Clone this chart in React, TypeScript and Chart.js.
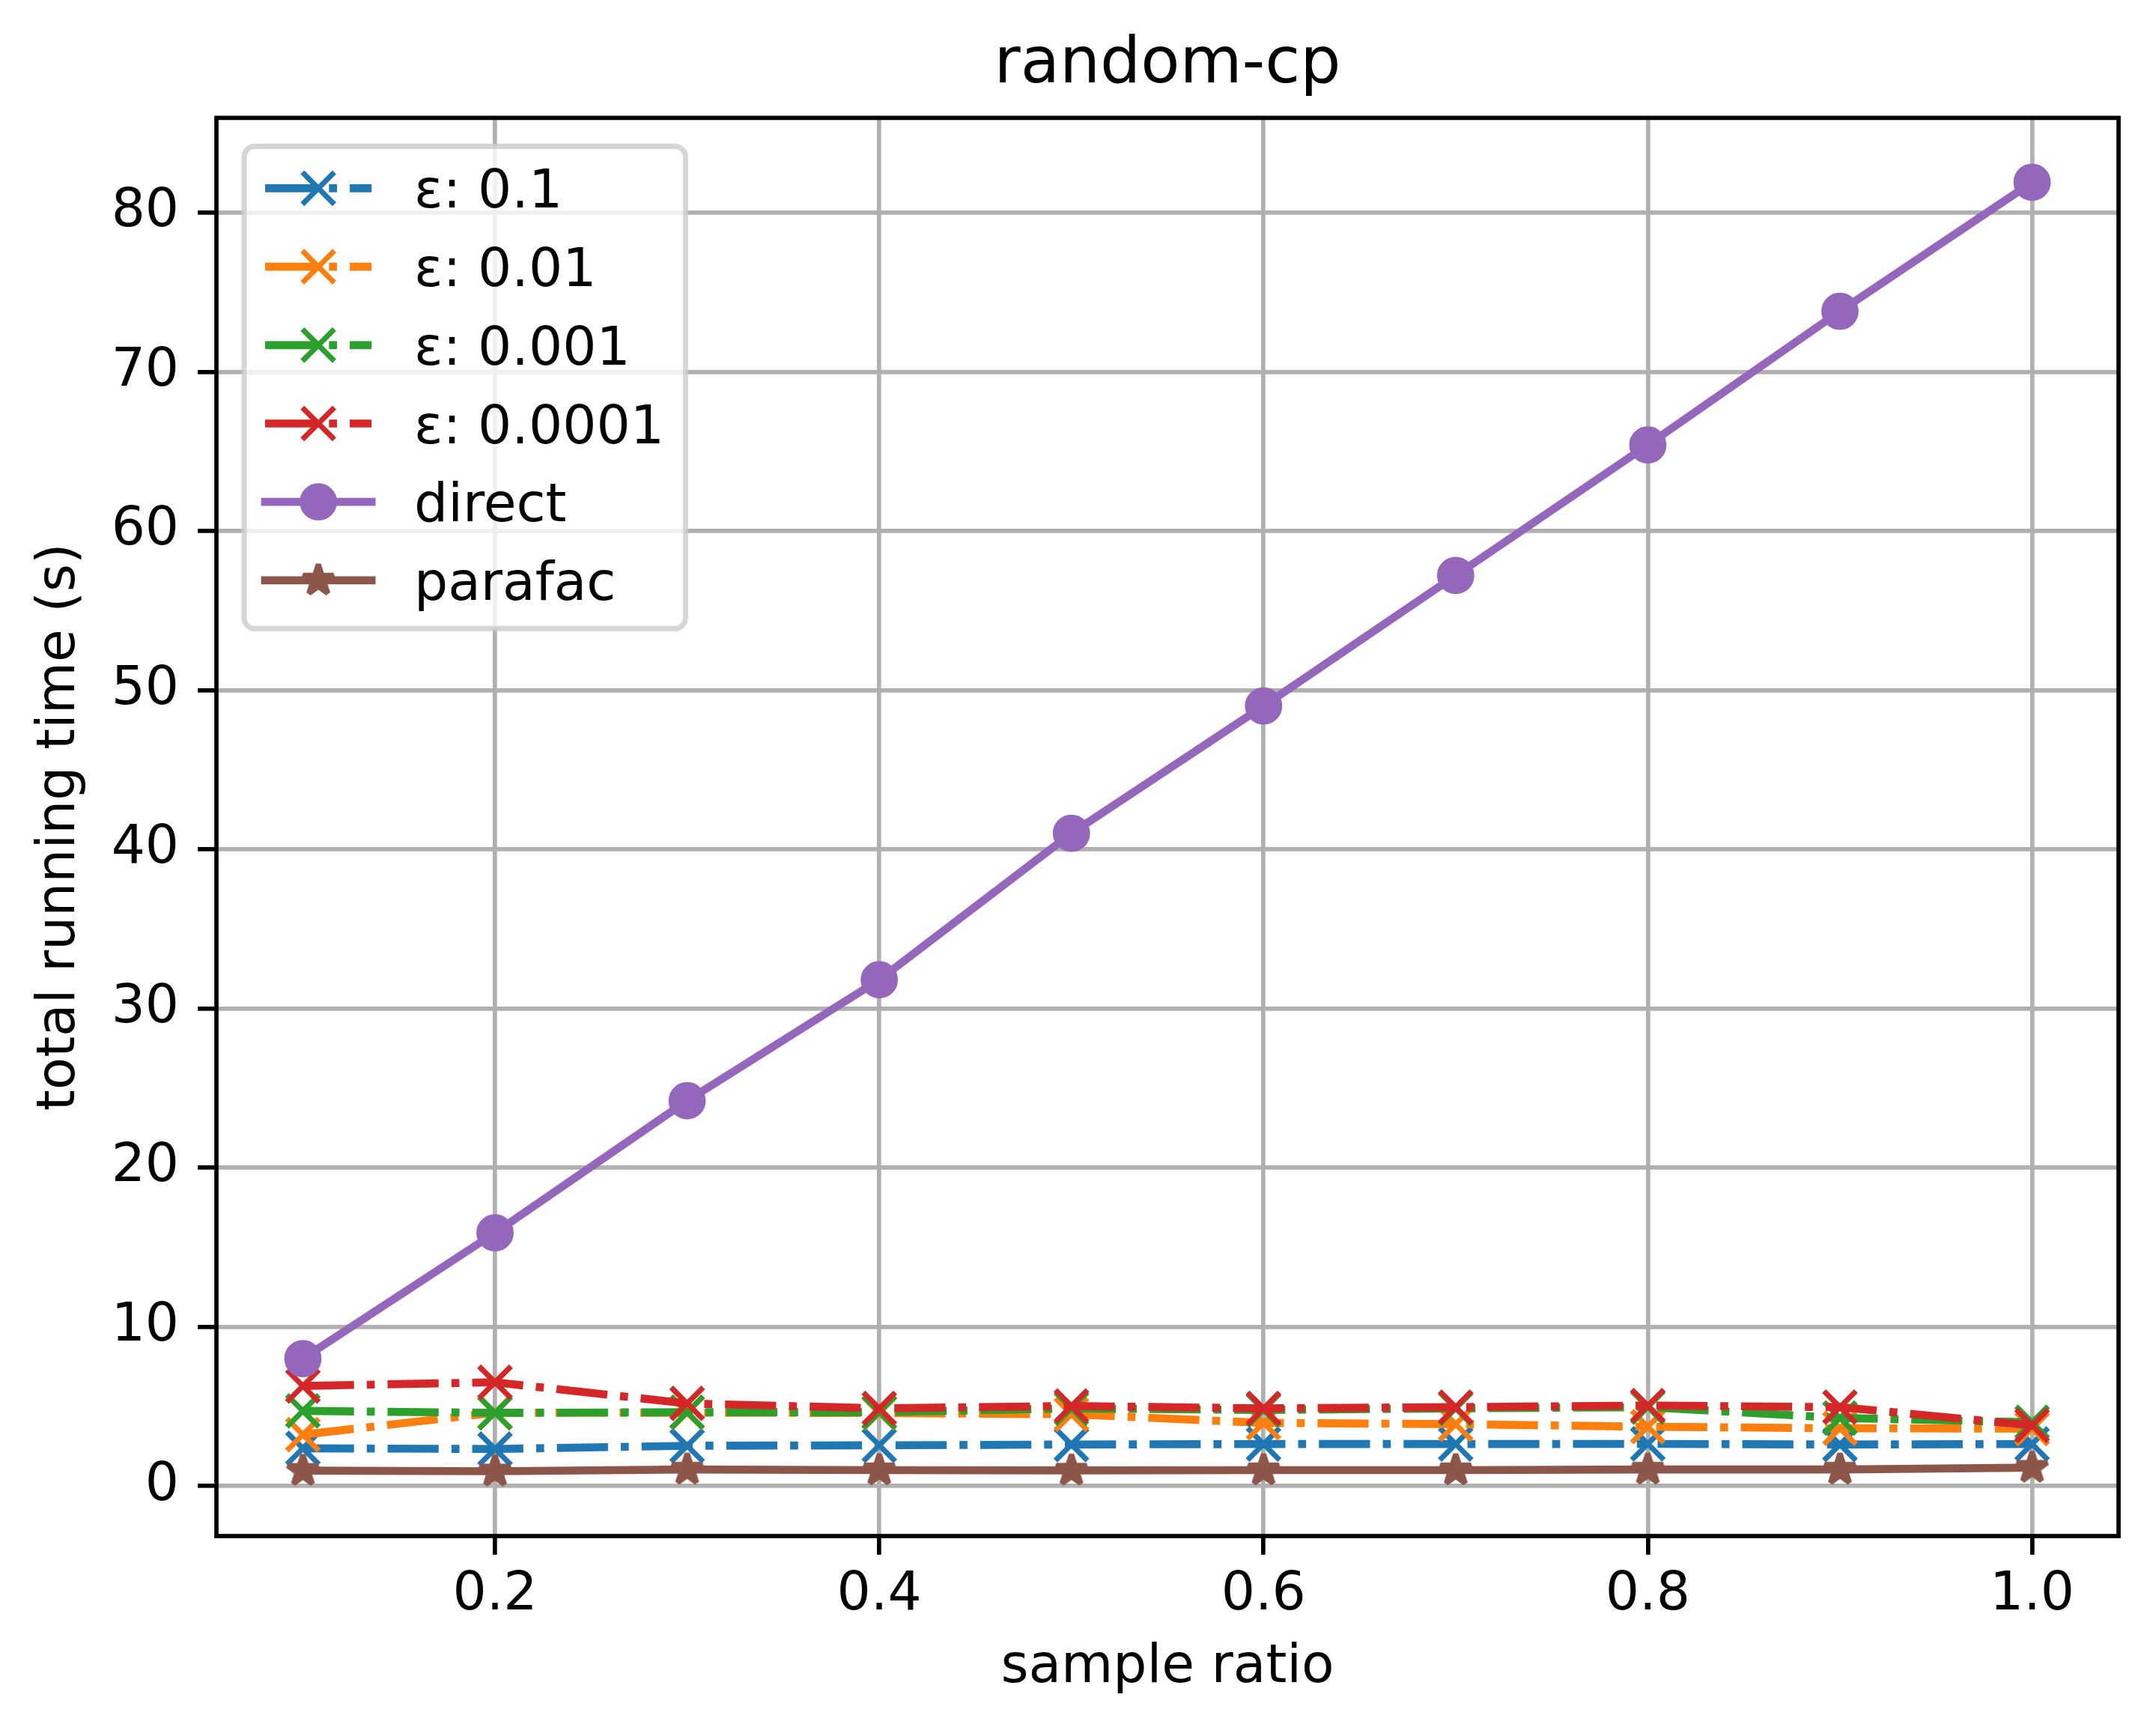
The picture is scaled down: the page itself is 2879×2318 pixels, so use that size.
import { useEffect, useRef } from 'react';
import { Chart, registerables } from 'chart.js';

Chart.register(...registerables);

// values
const sampleRatio = [0.1, 0.2, 0.3, 0.4, 0.5, 0.6, 0.7, 0.8, 0.9, 1.0];
const eps01 = [2.36, 2.32, 2.52, 2.55, 2.6, 2.63, 2.63, 2.64, 2.6, 2.63];
const eps001 = [3.22, 4.6, 4.6, 4.58, 4.5, 3.96, 3.88, 3.72, 3.62, 3.6];
const eps0001 = [4.71, 4.59, 4.63, 4.63, 4.87, 4.77, 4.87, 4.95, 4.27, 4.0];
const eps00001 = [6.28, 6.51, 5.18, 4.87, 5.02, 4.87, 4.95, 5.05, 4.95, 3.8];
const directTime = [8.0, 15.9, 24.2, 31.8, 41.0, 49.0, 57.2, 65.4, 73.8, 81.9];
const parafacTime = [0.96, 0.92, 1.03, 0.99, 0.97, 0.99, 0.99, 1.03, 1.03, 1.15];

const xTicks = [0.2, 0.4, 0.6, 0.8, 1.0];
const yTicks = [0, 10, 20, 30, 40, 50, 60, 70, 80];

const W = 2879;
const H = 2318;
const PT = 512 / 72; // px per point
const FS = 10 * PT;
const LW = 1.5 * PT;
const MS = 6 * PT;
const MEW = 1 * PT;
const DASHDOT = [6.4 * LW, 1.6 * LW, 1 * LW, 1.6 * LW];

function drawStar(g: CanvasRenderingContext2D, cx: number, cy: number, color: string) {
  const ro = MS / 2;
  const ri = ro * 0.381966;
  g.beginPath();
  for (let i = 0; i < 10; i++) {
    const r = i % 2 === 0 ? ro : ri;
    const a = -Math.PI / 2 + (i * Math.PI) / 5;
    const px = cx + r * Math.cos(a);
    const py = cy + r * Math.sin(a);
    if (i === 0) g.moveTo(px, py);
    else g.lineTo(px, py);
  }
  g.closePath();
  g.fillStyle = color;
  g.strokeStyle = color;
  g.lineWidth = MEW;
  g.lineJoin = 'bevel';
  g.fill();
  g.stroke();
}

function starImage(color: string) {
  const c = document.createElement('canvas');
  c.width = 64;
  c.height = 64;
  const g = c.getContext('2d')!;
  drawStar(g, 32, 32, color);
  return c;
}

function drawMarker(g: CanvasRenderingContext2D, ds: any, x: number, y: number) {
  const color = ds.borderColor;
  g.save();
  g.setLineDash([]);
  if (ds.pointStyle === 'crossRot') {
    const h = MS / 2;
    g.strokeStyle = color;
    g.lineWidth = MEW;
    g.lineCap = 'butt';
    g.beginPath();
    g.moveTo(x - h, y - h);
    g.lineTo(x + h, y + h);
    g.moveTo(x - h, y + h);
    g.lineTo(x + h, y - h);
    g.stroke();
  } else if (ds.pointStyle === 'circle') {
    g.fillStyle = color;
    g.strokeStyle = color;
    g.lineWidth = MEW;
    g.beginPath();
    g.arc(x, y, MS / 2, 0, Math.PI * 2);
    g.fill();
    g.stroke();
  } else {
    drawStar(g, x, y, color);
  }
  g.restore();
}

const frameAndLegend = {
  id: 'frameAndLegend',
  afterDatasetsDraw(chart: any) {
    const { ctx, chartArea: ca } = chart;
    ctx.save();
    // axes spines
    ctx.strokeStyle = '#000';
    ctx.lineWidth = 0.8 * PT;
    ctx.lineJoin = 'miter';
    ctx.strokeRect(ca.left, ca.top, ca.right - ca.left, ca.bottom - ca.top);

    // legend in matplotlib style
    const datasets = chart.data.datasets;
    ctx.font = `${FS}px "DejaVu Sans"`;
    const textW = Math.max(...datasets.map((d: any) => ctx.measureText(d.label).width));
    const x0 = ca.left + 37;
    const y0 = ca.top + 38;
    const hx0 = x0 + 28;
    const hlen = 2 * FS;
    const tx = hx0 + hlen + 0.8 * FS;
    const x1 = tx + textW + 0.4 * FS;
    const pitch = 104.7;
    const row0 = y0 + 56;
    const y1 = row0 + pitch * (datasets.length - 1) + 64.5;
    const r = 0.2 * FS;
    ctx.beginPath();
    ctx.moveTo(x0 + r, y0);
    ctx.lineTo(x1 - r, y0);
    ctx.arcTo(x1, y0, x1, y0 + r, r);
    ctx.lineTo(x1, y1 - r);
    ctx.arcTo(x1, y1, x1 - r, y1, r);
    ctx.lineTo(x0 + r, y1);
    ctx.arcTo(x0, y1, x0, y1 - r, r);
    ctx.lineTo(x0, y0 + r);
    ctx.arcTo(x0, y0, x0 + r, y0, r);
    ctx.closePath();
    ctx.fillStyle = 'rgba(255,255,255,0.8)';
    ctx.fill();
    ctx.strokeStyle = 'rgba(204,204,204,0.8)';
    ctx.lineWidth = 1 * PT;
    ctx.stroke();

    datasets.forEach((ds: any, i: number) => {
      const cy = row0 + pitch * i;
      ctx.save();
      ctx.strokeStyle = ds.borderColor;
      ctx.lineWidth = LW;
      const dashed = ds.borderDash && ds.borderDash.length > 0;
      ctx.setLineDash(dashed ? ds.borderDash : []);
      ctx.lineCap = dashed ? 'butt' : 'square';
      ctx.beginPath();
      ctx.moveTo(hx0, cy);
      ctx.lineTo(hx0 + hlen, cy);
      ctx.stroke();
      ctx.restore();
      drawMarker(ctx, ds, hx0 + hlen / 2, cy);
      ctx.fillStyle = '#000';
      ctx.textBaseline = 'alphabetic';
      ctx.textAlign = 'left';
      ctx.fillText(ds.label, tx, cy + 26);
    });
    ctx.restore();
  },
};

function points(ys: number[]) {
  return sampleRatio.map((x, i) => ({ x, y: ys[i] }));
}

export default function App() {
  const canvasRef = useRef<HTMLCanvasElement>(null);
  const chartRef = useRef<Chart | null>(null);

  useEffect(() => {
    document.body.style.margin = '0';
    const ctx = canvasRef.current?.getContext('2d');
    if (!ctx) return;
    if (chartRef.current) chartRef.current.destroy();

    const epsLine = (label: string, color: string, ys: number[]) => ({
      label,
      data: points(ys),
      borderColor: color,
      backgroundColor: color,
      borderWidth: LW,
      borderDash: DASHDOT,
      borderCapStyle: 'butt',
      borderJoinStyle: 'round',
      pointStyle: 'crossRot',
      pointRadius: MS / 2 / Math.SQRT1_2,
      pointHoverRadius: MS / 2 / Math.SQRT1_2,
      pointBorderWidth: MEW,
      pointBorderColor: color,
      pointBackgroundColor: color,
    });

    const datasets: any[] = [
      epsLine('ε: 0.1', '#1f77b4', eps01),
      epsLine('ε: 0.01', '#ff7f0e', eps001),
      epsLine('ε: 0.001', '#2ca02c', eps0001),
      epsLine('ε: 0.0001', '#d62728', eps00001),
      {
        label: 'direct',
        data: points(directTime),
        borderColor: '#9467bd',
        backgroundColor: '#9467bd',
        borderWidth: LW,
        borderCapStyle: 'square',
        borderJoinStyle: 'round',
        pointStyle: 'circle',
        pointRadius: MS / 2,
        pointHoverRadius: MS / 2,
        pointBorderWidth: MEW,
        pointBorderColor: '#9467bd',
        pointBackgroundColor: '#9467bd',
      },
      {
        label: 'parafac',
        data: points(parafacTime),
        borderColor: '#8c564b',
        backgroundColor: '#8c564b',
        borderWidth: LW,
        borderCapStyle: 'square',
        borderJoinStyle: 'round',
        pointStyle: starImage('#8c564b'),
        pointRadius: MS / 2,
        pointHoverRadius: MS / 2,
      },
    ];
    // first series at the bottom, like matplotlib
    datasets.forEach((d, i) => (d.order = datasets.length - i));

    chartRef.current = new Chart(ctx, {
      type: 'line',
      data: { datasets },
      options: {
        animation: false,
        responsive: false,
        devicePixelRatio: 1,
        layout: { padding: { left: 0, right: 50, top: 0, bottom: 0 } },
        font: { family: '"DejaVu Sans"' },
        plugins: {
          legend: { display: false },
          tooltip: { enabled: false },
          title: {
            display: true,
            text: 'random-cp',
            fullSize: false,
            color: '#000',
            font: { family: '"DejaVu Sans"', size: 12 * PT, weight: 'normal' },
            padding: { top: 36.6, bottom: 18.4 },
          },
        },
        scales: {
          x: {
            type: 'linear',
            min: 0.055,
            max: 1.045,
            afterBuildTicks: (scale: any) => {
              scale.ticks = xTicks.map((v) => ({ value: v }));
            },
            afterFit: (scale: any) => {
              scale.height = H - 2051;
            },
            ticks: {
              autoSkip: false,
              maxRotation: 0,
              color: '#000',
              padding: 12,
              font: { family: '"DejaVu Sans"', size: FS },
              callback: (v: any) => Number(v).toFixed(1),
            },
            grid: {
              color: '#b0b0b0',
              lineWidth: 0.8 * PT,
              tickColor: '#000',
              tickWidth: 0.8 * PT,
              tickLength: 3.5 * PT,
            },
            border: { display: false },
            title: {
              display: true,
              text: 'sample ratio',
              color: '#000',
              font: { family: '"DejaVu Sans"', size: FS },
              padding: { top: 0, bottom: 48 },
            },
          },
          y: {
            type: 'linear',
            min: -3.15,
            max: 85.95,
            afterBuildTicks: (scale: any) => {
              scale.ticks = yTicks.map((v) => ({ value: v }));
            },
            afterFit: (scale: any) => {
              scale.width = 289;
            },
            ticks: {
              autoSkip: false,
              color: '#000',
              padding: 25,
              font: { family: '"DejaVu Sans"', size: FS },
              callback: (v: any) => String(v),
            },
            grid: {
              color: '#b0b0b0',
              lineWidth: 0.8 * PT,
              tickColor: '#000',
              tickWidth: 0.8 * PT,
              tickLength: 3.5 * PT,
            },
            border: { display: false },
            title: {
              display: true,
              text: 'total running time (s)',
              color: '#000',
              font: { family: '"DejaVu Sans"', size: FS },
              padding: { top: 37.8, bottom: 0 },
            },
          },
        },
      } as any,
      plugins: [frameAndLegend],
    });

    return () => {
      if (chartRef.current) {
        chartRef.current.destroy();
        chartRef.current = null;
      }
    };
  }, []);

  return (
    <div style={{ width: W, height: H, background: '#fff' }}>
      <canvas ref={canvasRef} width={W} height={H} style={{ display: 'block', width: W, height: H }} />
    </div>
  );
}
